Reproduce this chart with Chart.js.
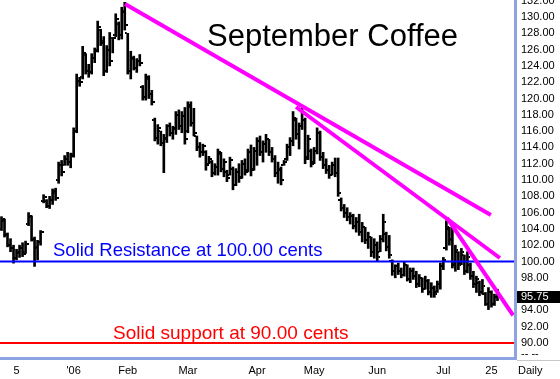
<!DOCTYPE html>
<html><head><meta charset="utf-8">
<script src="https://cdn.jsdelivr.net/npm/chart.js@4.4.0/dist/chart.umd.min.js"></script>
<style>html,body{margin:0;padding:0;background:#fff;overflow:hidden}#wrap{width:560px;height:379px;position:relative}</style>
</head><body><div id="wrap"><canvas id="c"></canvas></div>
<script>
// ---- data ----
const highs = [105.5,105.2,103.5,102.8,102.0,101.5,102.0,102.3,102.5,106.0,
 105.6,103.0,102.6,103.8,108.2,107.6,108.0,108.9,109.0,112.2,
 112.4,113.0,113.4,113.3,116.4,123.0,122.6,126.4,125.5,124.2,
 125.5,126.2,129.5,128.5,127.6,126.5,128.1,127.5,130.4,129.4,
 131.2,131.8,128.0,125.8,125.2,124.9,125.4,121.6,123.0,122.8,
 121.0,117.6,116.8,116.0,115.6,116.8,117.0,116.6,118.4,118.6,
 118.4,118.9,119.6,119.6,118.8,115.4,114.6,114.4,113.6,112.9,
 112.4,112.0,113.8,113.4,112.6,111.2,112.8,111.6,111.4,112.0,
 112.4,112.6,113.8,114.3,114.0,115.2,115.4,114.8,115.6,115.0,
 114.0,113.0,112.2,111.6,112.4,114.4,115.2,118.4,117.6,117.0,
 118.8,117.6,115.5,113.8,114.0,116.4,116.0,113.4,112.6,111.8,
 112.2,112.7,112.7,107.8,107.0,106.6,106.0,105.8,105.4,105.8,
 104.8,104.2,103.6,103.0,102.8,102.4,103.2,105.8,103.6,103.2,
 100.2,99.6,99.8,99.2,100.0,99.6,99.2,99.2,98.8,98.4,
 98.0,98.2,97.8,97.4,97.0,97.6,99.8,100.5,105.0,104.2,
 104.6,102.0,101.2,101.6,100.8,101.2,99.8,98.8,98.2,97.6,
 97.8,96.2,96.8,96.4,96.0,96.6];
const lows = [103.8,103.0,101.8,101.2,99.8,100.2,100.5,100.6,101.0,104.4,
 102.5,99.4,100.2,102.0,107.2,106.6,106.5,107.0,107.5,109.6,
 110.5,111.8,111.8,111.5,112.8,115.8,121.5,122.4,123.0,122.6,
 123.0,124.4,125.7,126.5,122.8,123.2,124.0,125.6,127.6,127.2,
 127.3,128.4,123.0,122.4,123.5,123.2,124.0,119.8,119.8,120.0,
 119.2,114.8,114.4,114.2,110.9,114.6,115.4,115.0,115.6,116.2,
 115.8,114.4,115.8,116.6,115.4,113.6,112.8,113.0,111.2,112.0,
 110.4,110.6,110.6,111.0,110.4,109.8,110.6,108.8,109.3,109.7,
 110.2,110.6,111.0,110.5,111.2,111.8,113.0,112.2,113.4,113.0,
 112.2,110.4,109.6,109.4,111.8,112.4,113.0,114.2,115.0,113.8,
 116.2,112.0,112.5,111.6,112.0,113.2,112.4,111.4,110.8,110.2,
 110.6,110.4,108.0,106.2,105.4,105.0,104.6,104.0,103.6,103.2,
 102.4,102.2,101.6,100.6,100.4,100.1,101.2,102.4,101.3,100.4,
 98.3,98.0,98.4,98.0,98.2,97.6,97.4,97.8,96.8,96.9,
 96.2,96.6,95.9,95.6,95.6,96.2,96.6,99.0,101.4,102.0,
 99.2,98.8,99.0,99.6,98.4,98.6,97.8,96.8,96.2,95.8,
 96.0,94.6,94.1,94.4,94.6,95.2];
const opens = [104.0,105.0,103.2,102.0,101.6,100.4,101.0,101.6,101.2,104.6,
 105.4,102.6,101.6,102.4,107.4,107.4,106.8,107.6,108.4,110.0,
 111.8,111.9,112.6,112.2,113.2,116.0,122.2,122.6,125.4,123.4,
 123.2,125.0,126.0,128.4,127.0,123.4,126.0,127.4,127.8,129.2,
 127.8,130.8,128.0,123.4,124.8,123.8,124.6,121.4,120.2,122.4,
 120.6,117.4,115.2,116.0,114.6,115.0,116.6,115.8,116.2,118.0,
 116.6,117.8,116.0,119.0,117.0,115.4,114.0,113.4,113.4,112.0,
 112.2,110.8,111.6,113.2,111.4,111.0,110.6,111.4,109.4,111.0,
 110.4,112.0,111.2,113.4,111.4,113.6,114.8,113.4,114.4,115.0,
 113.4,112.6,110.8,111.2,111.9,112.6,114.0,114.8,117.4,115.6,
 116.6,117.4,112.8,113.6,112.2,113.6,115.8,112.8,111.8,111.2,
 110.6,111.8,110.8,107.6,106.6,106.0,105.4,105.6,104.4,104.8,
 103.6,104.2,102.6,103.0,101.2,102.0,101.2,102.8,103.4,101.8,
 100.0,98.8,99.4,98.8,98.4,99.6,97.9,98.8,98.2,97.2,
 98.0,96.6,97.6,96.2,96.8,96.2,97.2,99.4,101.6,104.0,
 102.8,99.6,101.2,99.8,100.8,98.8,99.6,98.2,97.2,97.4,
 96.2,96.0,94.8,96.2,94.8,95.6];
const closes = [105.2,103.4,102.0,101.6,100.4,101.2,101.6,100.9,102.2,105.6,
 102.8,101.8,102.4,103.6,107.9,106.8,107.6,108.6,107.8,111.8,
 111.0,112.6,112.2,113.0,116.0,122.2,122.0,125.6,123.4,123.2,
 125.0,125.8,128.8,126.8,123.4,126.0,124.6,127.4,129.8,127.8,
 130.6,129.0,123.4,125.0,123.8,124.6,124.4,120.2,122.6,120.6,
 119.6,115.2,116.4,114.6,115.2,116.6,115.8,116.4,118.0,116.6,
 117.8,115.0,119.2,117.0,115.8,114.0,113.4,114.2,111.8,112.6,
 110.8,111.6,113.4,111.4,112.2,110.2,112.4,109.4,111.0,110.2,
 112.0,111.0,113.4,111.2,113.6,114.8,113.4,114.4,115.0,113.4,
 112.6,110.8,111.4,110.0,112.2,114.0,114.8,117.6,115.6,116.6,
 118.2,112.6,115.0,112.0,113.6,115.8,112.8,111.8,111.2,110.6,
 111.8,110.8,108.4,106.6,106.0,105.4,105.6,104.4,104.8,103.6,
 104.2,102.6,103.0,101.2,102.0,100.6,102.8,104.8,101.8,100.8,
 98.8,99.4,98.8,98.4,99.6,97.9,98.8,98.2,97.2,98.0,
 96.6,97.6,96.2,96.8,96.0,97.2,99.4,100.2,104.2,102.6,
 99.8,101.4,99.6,101.2,98.8,100.6,98.2,97.2,97.8,96.2,
 97.0,94.8,96.2,94.8,95.6,95.75];

const slotCount = 171;                       // trading-day slots on the x axis
const xTickIndex = [5, 24, 42, 62, 85, 104, 125, 147, 163];
const xTickText  = ['5', "'06", 'Feb', 'Mar', 'Apr', 'May', 'Jun', 'Jul', '25'];
const yTickValues = [90,92,94,98,100,102,104,106,108,110,112,114,116,118,120,122,124,126,128,130,132];
const resistanceLevel = 100;
const supportLevel = 90;
// trendlines: [slot index, price]
const trend1X = [41.1, 162.8],  trend1Y = [131.6, 105.7];
const trend2X = [98.0, 165.8],  trend2Y = [118.96, 100.43];
const trend3X = [148.2, 170.2], trend3Y = [105.34, 93.4];

// ---- build ----
function tickImg(left) {
  const c = document.createElement('canvas');
  c.width = 6; c.height = 2;
  const g = c.getContext('2d');
  g.fillStyle = '#000';
  g.fillRect(left ? 0 : 4, 0, 2, 2);
  return c;
}
const openImg = tickImg(true), closeImg = tickImg(false);
const pts = (xs, ys) => xs.map((x, i) => ({x, y: ys[i]}));
const series = arr => arr.map((v, i) => ({x: i, y: v}));
const FONT = 'Liberation Sans, Arial, sans-serif';
const AXIS_BLUE = '#8ea4e2';
const noPad = s => { s.paddingTop = 0; s.paddingBottom = 0; s.paddingLeft = 0; s.paddingRight = 0; };

const overlay = {
  id: 'overlay',
  afterDraw(chart) {
    const ctx = chart.ctx, ca = chart.chartArea, ys = chart.scales.y;
    ctx.save();
    ctx.fillStyle = AXIS_BLUE;
    ctx.fillRect(ca.left, ca.bottom, ca.right - ca.left + 3, 3);
    ctx.fillRect(ca.right, ca.top, 3, ca.bottom - ca.top + 3);
    ctx.strokeStyle = '#c8c8c8'; ctx.lineWidth = 1;
    ctx.beginPath(); ctx.moveTo(ca.right + 3, ca.bottom + 3.5); ctx.lineTo(chart.width, ca.bottom + 3.5); ctx.stroke();
    ctx.fillStyle = '#000';
    ctx.textBaseline = 'alphabetic'; ctx.textAlign = 'left';
    ctx.font = '31px ' + FONT;
    ctx.fillText('September Coffee', 207, 46);
    ctx.font = '18.5px ' + FONT;
    ctx.fillStyle = '#0000ff';
    ctx.fillText('Solid Resistance at 100.00 cents', 53, ys.getPixelForValue(resistanceLevel) - 5);
    ctx.font = '19px ' + FONT;
    ctx.fillStyle = '#ff0000';
    ctx.fillText('Solid support at 90.00 cents', 113, ys.getPixelForValue(supportLevel) - 4);
    const last = closes[closes.length - 1];
    const py = Math.round(ys.getPixelForValue(last));
    ctx.fillStyle = '#000';
    ctx.fillRect(ca.right + 3, py - 5, chart.width - ca.right - 3, 12);
    ctx.fillStyle = '#fff';
    ctx.font = '11px ' + FONT;
    ctx.textBaseline = 'middle';
    ctx.fillText(last.toFixed(2), ca.right + 7, py + 1);
    ctx.fillStyle = '#000';
    ctx.fillText('-- --', ca.right + 7, ca.bottom - 3);
    ctx.fillText('Daily', ca.right + 4, ca.bottom + 14);
    ctx.restore();
  }
};

new Chart(document.getElementById('c'), {
  type: 'bar',
  data: {
    datasets: [
      { type: 'line', data: pts(trend1X, trend1Y), borderColor: '#ff00ff', borderWidth: 4, pointRadius: 0, order: 0 },
      { type: 'line', data: pts(trend2X, trend2Y), borderColor: '#ff00ff', borderWidth: 4, pointRadius: 0, order: 0 },
      { type: 'line', data: pts(trend3X, trend3Y), borderColor: '#ff00ff', borderWidth: 4, pointRadius: 0, order: 0 },
      { type: 'line', data: pts([-0.5, slotCount - 0.5], [resistanceLevel, resistanceLevel]), borderColor: '#0000ff', borderWidth: 2, pointRadius: 0, order: 1 },
      { type: 'line', data: pts([-0.5, slotCount - 0.5], [supportLevel, supportLevel]), borderColor: '#ff0000', borderWidth: 2, pointRadius: 0, order: 1 },
      { type: 'line', data: series(opens), showLine: false, pointStyle: openImg, pointRadius: 3, order: 2 },
      { type: 'line', data: series(closes), showLine: false, pointStyle: closeImg, pointRadius: 3, order: 2 },
      { type: 'bar', data: highs.map((h, i) => ({x: i, y: [lows[i], h]})), backgroundColor: '#000', borderWidth: 0, barThickness: 2, order: 3 }
    ]
  },
  options: {
    responsive: true, maintainAspectRatio: false, animation: false, events: [],
    devicePixelRatio: 1,
    layout: { padding: 0, autoPadding: false },
    plugins: { legend: { display: false }, tooltip: { enabled: false }, title: { display: false } },
    scales: {
      x: {
        type: 'linear', offset: false, min: -0.5, max: slotCount - 0.5,
        grid: { display: false, drawTicks: false }, border: { display: false },
        ticks: { autoSkip: false, maxRotation: 0, minRotation: 0, padding: 7, color: '#000', font: { family: FONT, size: 11 },
                 callback: v => { const k = xTickIndex.indexOf(v); return k >= 0 ? xTickText[k] : ''; } },
        afterBuildTicks(s) { s.ticks = xTickIndex.map(v => ({ value: v })); },
        afterFit(s) { s.height = 22; noPad(s); }
      },
      y: {
        position: 'right', min: 88.28, max: 132.09,
        grid: { display: false, drawTicks: false }, border: { display: false },
        ticks: { padding: 7, color: '#000', font: { family: FONT, size: 11 }, callback: v => Number(v).toFixed(2) },
        afterBuildTicks(s) { s.ticks = yTickValues.map(v => ({ value: v })); },
        afterFit(s) { s.width = 46; noPad(s); }
      }
    }
  },
  plugins: [overlay]
});
</script></body></html>
